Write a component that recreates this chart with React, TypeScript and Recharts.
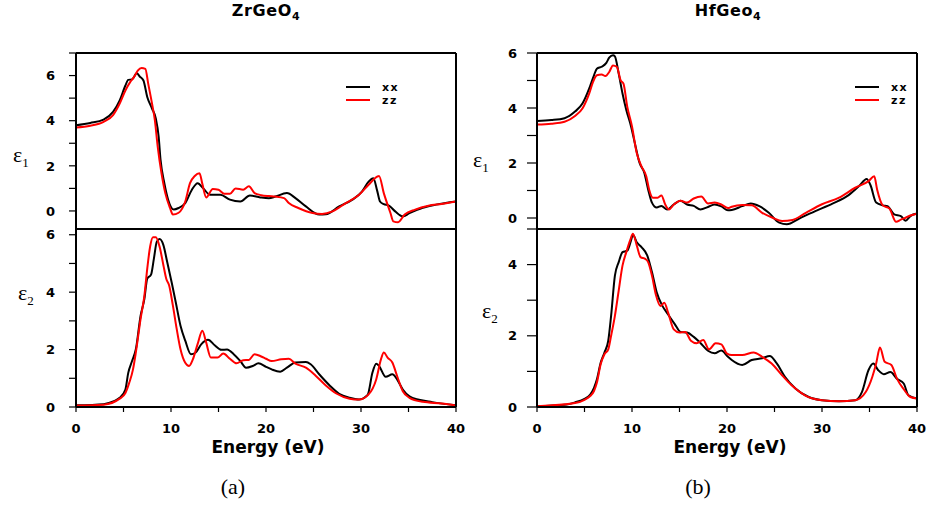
import React from 'react';
import { LineChart, Line, XAxis, YAxis } from 'recharts';

type Pt = [number, number];

// energy (eV), value pairs read per tensor component
const zrEps1Xx: Pt[] = [
  [0, 3.8], [1.5, 3.9], [2.9, 4.05], [3.9, 4.39], [4.6, 4.9], [5.2, 5.56], [5.5, 5.81], [5.9, 5.83],
  [6.4, 6.1], [6.7, 5.96], [7.1, 5.78], [7.5, 5.05], [8.0, 4.54], [8.4, 4.1], [8.7, 3.29], [8.9, 2.26],
  [9.3, 1.23], [9.7, 0.5], [10.3, 0.06], [10.8, 0.13], [11.5, 0.35], [12.2, 0.94], [12.8, 1.23],
  [13.4, 1.0], [14.1, 0.72], [15.2, 0.72], [16.2, 0.5], [17.3, 0.42], [18.3, 0.69], [19.4, 0.6],
  [20.3, 0.56], [21, 0.64], [22.2, 0.79], [23.1, 0.57], [24.2, 0.2], [25.6, -0.16], [26.3, -0.15],
  [27.7, 0.2], [29.1, 0.5], [30.1, 0.86], [30.8, 1.3], [31.3, 1.45], [31.7, 0.9], [32.0, 0.42],
  [32.4, 0.3], [32.9, 0.25], [33.6, -0.02], [34.4, -0.24], [35.1, -0.1], [36.5, 0.14], [37.9, 0.28],
  [40, 0.42],
];
const zrEps1Zz: Pt[] = [
  [0, 3.7], [1.5, 3.78], [2.9, 3.95], [3.9, 4.25], [4.6, 4.76], [5.2, 5.34], [5.7, 5.71], [6.1, 5.93],
  [6.5, 6.22], [6.9, 6.34], [7.3, 6.3], [7.6, 5.64], [8.0, 4.76], [8.3, 4.02], [8.6, 2.85], [9.0, 1.67],
  [9.4, 0.79], [9.9, 0.13], [10.2, -0.16], [10.8, -0.08], [11.5, 0.42], [12.0, 1.23], [12.5, 1.55],
  [13.0, 1.67], [13.3, 1.2], [13.7, 0.6], [14.4, 0.97], [15.0, 0.94], [15.6, 0.76], [16.2, 0.76],
  [16.8, 1.0], [17.6, 0.94], [18.2, 1.09], [18.8, 0.79], [19.5, 0.7], [20.3, 0.66], [21, 0.64],
  [21.9, 0.57], [22.4, 0.35], [23.4, 0.13], [24.9, -0.09], [25.9, -0.13], [27, -0.02], [28.4, 0.35],
  [29.8, 0.72], [30.8, 1.16], [31.7, 1.52], [31.9, 1.55], [32.4, 0.79], [33.1, -0.09], [33.4, -0.46],
  [33.9, -0.5], [34.6, -0.16], [35.7, 0.06], [37.1, 0.23], [38.5, 0.31], [40, 0.42],
];
const zrEps2Xx: Pt[] = [
  [0, 0.06], [2.9, 0.1], [4, 0.2], [4.6, 0.32], [5.2, 0.61], [5.5, 1.19], [5.9, 1.6], [6.3, 2.01],
  [6.8, 3.18], [7.2, 3.77], [7.5, 4.47], [7.9, 4.61], [8.2, 5.17], [8.5, 5.75], [8.8, 5.85], [9.2, 5.64],
  [9.6, 5.05], [10.1, 4.29], [10.5, 3.65], [11.0, 2.83], [11.5, 2.31], [12.1, 1.84], [12.6, 1.9],
  [13.2, 2.19], [13.9, 2.34], [14.6, 2.15], [15.3, 1.99], [15.9, 2.0], [16.6, 1.84], [17.3, 1.6],
  [17.9, 1.37], [18.6, 1.43], [19.2, 1.52], [20.0, 1.4], [20.6, 1.31], [21.5, 1.23], [22.2, 1.37],
  [23.1, 1.55], [24.2, 1.57], [24.7, 1.49], [25.6, 1.14], [26.7, 0.75], [27.7, 0.46], [28.8, 0.32],
  [29.8, 0.26], [30.7, 0.42], [31.2, 1.19], [31.6, 1.51], [31.9, 1.43], [32.6, 1.05], [33.3, 1.14],
  [33.8, 0.96], [34.4, 0.61], [35.1, 0.37], [36.1, 0.25], [37.5, 0.17], [40, 0.06],
];
const zrEps2Zz: Pt[] = [
  [0, 0.05], [2.9, 0.08], [4.6, 0.29], [5.2, 0.49], [5.6, 0.84], [6.0, 1.31], [6.3, 1.9], [6.8, 3.07],
  [7.2, 3.88], [7.5, 4.82], [7.8, 5.58], [8.1, 5.91], [8.4, 5.91], [8.8, 5.58], [9.2, 4.94], [9.5, 4.47],
  [9.8, 4.24], [10.2, 3.53], [10.6, 2.72], [11.0, 2.01], [11.5, 1.54], [11.9, 1.43], [12.3, 1.66],
  [12.8, 2.19], [13.3, 2.66], [13.7, 2.25], [14.2, 1.72], [14.9, 1.72], [15.5, 1.86], [16.2, 1.68],
  [16.9, 1.52], [17.6, 1.63], [18.2, 1.64], [18.8, 1.84], [19.5, 1.76], [20.0, 1.68], [20.6, 1.6],
  [21.6, 1.66], [22.4, 1.68], [23.1, 1.51], [24.2, 1.37], [25.2, 1.1], [26.3, 0.75], [27.4, 0.47],
  [28.8, 0.29], [29.8, 0.26], [30.8, 0.44], [31.6, 0.96], [32.1, 1.66], [32.4, 1.9], [32.8, 1.72],
  [33.3, 1.55], [33.8, 1.08], [34.4, 0.55], [35.1, 0.32], [36.5, 0.18], [38.5, 0.12], [40, 0.05],
];

const hfEps1Xx: Pt[] = [
  [0, 3.53], [1.5, 3.56], [2.9, 3.63], [4.0, 3.87], [4.8, 4.17], [5.5, 4.71], [6.0, 5.19], [6.3, 5.43],
  [6.8, 5.5], [7.3, 5.64], [7.6, 5.83], [8.0, 5.92], [8.2, 5.88], [8.6, 5.25], [9.0, 4.53], [9.4, 3.93],
  [9.9, 3.33], [10.3, 2.72], [10.8, 2.0], [11.3, 1.64], [11.7, 1.04], [12.1, 0.56], [12.6, 0.38],
  [13.1, 0.44], [13.7, 0.31], [14.4, 0.49], [15.1, 0.63], [15.8, 0.49], [16.5, 0.44], [17.2, 0.31],
  [18.0, 0.4], [18.7, 0.49], [19.4, 0.42], [20.1, 0.28], [20.5, 0.29], [21.6, 0.43], [22.5, 0.53],
  [23.4, 0.43], [24.4, 0.19], [25.5, -0.17], [26.3, -0.23], [27.6, -0.02], [29.3, 0.25], [31.1, 0.52],
  [32.8, 0.83], [33.9, 1.16], [34.7, 1.42], [35.1, 1.2], [35.7, 0.56], [36.4, 0.46], [36.9, 0.43],
  [37.6, 0.13], [38.3, 0.07], [38.8, -0.1], [39.3, 0.07], [40, 0.16],
];
const hfEps1Zz: Pt[] = [
  [0, 3.4], [1.5, 3.43], [2.9, 3.5], [4.0, 3.71], [4.8, 3.99], [5.5, 4.53], [5.9, 4.95], [6.3, 5.19],
  [6.8, 5.22], [7.2, 5.16], [7.6, 5.31], [8.0, 5.55], [8.4, 5.5], [8.8, 5.01], [9.1, 4.89], [9.5, 4.05],
  [10.0, 3.33], [10.5, 2.36], [11.0, 1.88], [11.5, 1.52], [11.8, 1.04], [12.2, 0.74], [12.7, 0.74],
  [13.1, 0.82], [13.5, 0.49], [13.9, 0.31], [14.4, 0.49], [15.1, 0.63], [15.8, 0.56], [16.5, 0.71],
  [17.3, 0.78], [18.0, 0.53], [18.7, 0.56], [19.4, 0.49], [20.1, 0.36], [20.5, 0.41], [21.6, 0.47],
  [22.6, 0.46], [23.7, 0.19], [24.8, 0.01], [25.8, -0.11], [26.9, -0.07], [28.3, 0.19], [30, 0.5],
  [31.8, 0.74], [33.5, 1.1], [34.9, 1.34], [35.5, 1.52], [35.8, 1.04], [36.4, 0.46], [37.1, 0.34],
  [37.8, -0.14], [38.3, -0.06], [38.8, 0.01], [39.3, 0.09], [40, 0.16],
];
const hfEps2Xx: Pt[] = [
  [0, 0.02], [2.9, 0.06], [4.0, 0.13], [5.0, 0.23], [5.6, 0.35], [6.0, 0.54], [6.3, 0.77], [6.7, 1.24],
  [7.1, 1.53], [7.5, 1.86], [7.8, 2.56], [8.2, 3.69], [8.6, 4.07], [9.0, 4.35], [9.5, 4.39], [9.9, 4.68],
  [10.1, 4.84], [10.5, 4.63], [11.0, 4.49], [11.6, 4.26], [12.1, 3.79], [12.6, 3.22], [13.2, 2.84],
  [13.8, 2.6], [14.5, 2.33], [15.1, 2.11], [15.8, 2.09], [16.5, 1.97], [17.2, 1.8], [18.0, 1.58],
  [18.7, 1.51], [19.4, 1.59], [20.1, 1.41], [20.5, 1.32], [21.6, 1.18], [22.6, 1.32], [23.7, 1.37],
  [24.5, 1.43], [25.2, 1.24], [26.1, 0.85], [27.2, 0.52], [28.6, 0.28], [30, 0.19], [31.8, 0.16],
  [33.5, 0.19], [34.2, 0.42], [34.9, 1.04], [35.4, 1.22], [35.9, 1.04], [36.5, 0.92], [37.2, 0.98],
  [37.9, 0.79], [38.6, 0.66], [39.1, 0.33], [40, 0.24],
];
const hfEps2Zz: Pt[] = [
  [0, 0.02], [4.0, 0.11], [5.0, 0.2], [5.6, 0.31], [6.0, 0.45], [6.3, 0.68], [6.7, 1.2], [7.1, 1.48],
  [7.5, 1.62], [7.8, 2.0], [8.2, 2.56], [8.6, 3.27], [9.0, 3.97], [9.4, 4.35], [9.8, 4.68], [10.1, 4.87],
  [10.5, 4.54], [10.9, 4.21], [11.4, 4.16], [11.7, 4.07], [12.1, 3.69], [12.5, 3.17], [13.0, 2.84],
  [13.4, 2.93], [13.8, 2.65], [14.4, 2.18], [15.0, 2.09], [15.6, 2.11], [16.2, 1.86], [16.8, 1.79],
  [17.5, 1.88], [18.1, 1.62], [18.8, 1.79], [19.4, 1.76], [20.0, 1.5], [20.5, 1.46], [21.6, 1.46],
  [22.8, 1.53], [23.7, 1.41], [24.7, 1.22], [25.8, 0.89], [26.8, 0.61], [28.2, 0.33], [30, 0.19],
  [31.8, 0.16], [33.5, 0.19], [34.6, 0.42], [35.3, 0.85], [35.7, 1.22], [36.1, 1.67], [36.6, 1.27],
  [37.3, 1.18], [37.9, 0.79], [38.6, 0.5], [39.3, 0.28], [40, 0.24],
];

const energyTicks = [0, 5, 10, 15, 20, 25, 30, 35, 40];
const energyLabels = [0, 10, 20, 30, 40];

const AXIS_FONT = 'DejaVu Sans, Verdana, sans-serif';
const SERIF = 'Liberation Serif, Times New Roman, serif';

// plot boxes (left, top, width, height) shared by the charts and the frame overlay
const BOX_A_TOP = { left: 76, top: 53, width: 380, height: 176 };
const BOX_A_BOT = { left: 76, top: 229, width: 380, height: 178 };
const BOX_B_TOP = { left: 537, top: 53, width: 380, height: 176 };
const BOX_B_BOT = { left: 537, top: 229, width: 380, height: 178 };

const toRows = (pts: Pt[]) => pts.map(([e, v]) => ({ e, v }));

const YTick = (props: any) => {
  const { x, y, payload, labeled } = props;
  if (!labeled.includes(payload.value)) return <g />;
  return (
    <text x={x} y={y} dy="0.36em" textAnchor="end" fontFamily={AXIS_FONT} fontWeight="bold" fontSize={13} fill="#000">
      {payload.value}
    </text>
  );
};

const XTick = (props: any) => {
  const { x, y, payload } = props;
  if (!energyLabels.includes(payload.value)) return <g />;
  return (
    <text x={x} y={y} dy="0.72em" textAnchor="middle" fontFamily={AXIS_FONT} fontWeight="bold" fontSize={13} fill="#000">
      {payload.value}
    </text>
  );
};

interface Box { left: number; top: number; width: number; height: number }

interface SubPlotProps {
  box: Box;
  domain: [number, number];
  ticks: number[];
  labeled: number[];
  xx: Pt[];
  zz: Pt[];
  showX?: boolean;
  tickLen: number;
  labelGap: number;
}

const PAD_L = 70;
const PAD_T = 10;
const PAD_R = 10;
const PAD_B = 40;

const SubPlot: React.FC<SubPlotProps> = ({ box, domain, ticks, labeled, xx, zz, showX = false, tickLen, labelGap }) => (
  <div style={{ position: 'absolute', left: box.left - PAD_L, top: box.top - PAD_T }}>
    <LineChart
      width={box.width + PAD_L + PAD_R}
      height={box.height + PAD_T + PAD_B}
      margin={{ top: PAD_T, right: PAD_R, left: 0, bottom: showX ? 0 : PAD_B }}
    >
      <XAxis
        type="number"
        dataKey="e"
        domain={[0, 40]}
        ticks={energyTicks}
        interval={0}
        hide={!showX}
        height={PAD_B}
        allowDataOverflow
        axisLine={false}
        tickSize={5}
        tickMargin={12}
        tickLine={{ stroke: '#000', strokeWidth: 1.2 }}
        tick={<XTick />}
      />
      <YAxis
        type="number"
        domain={domain}
        ticks={ticks}
        interval={0}
        width={PAD_L}
        allowDataOverflow
        axisLine={false}
        tickSize={tickLen}
        tickMargin={labelGap}
        tickLine={{ stroke: '#000', strokeWidth: 1.2 }}
        tick={<YTick labeled={labeled} />}
      />
      <Line data={toRows(xx)} dataKey="v" type="monotone" stroke="#000" strokeWidth={2} dot={false} isAnimationActive={false} />
      <Line data={toRows(zz)} dataKey="v" type="monotone" stroke="#ff0000" strokeWidth={2} dot={false} isAnimationActive={false} />
    </LineChart>
  </div>
);

// box outline drawn as four separate strokes
const Frame: React.FC<{ box: Box }> = ({ box }) => {
  const { left: l, top: t, width: w, height: h } = box;
  return (
    <g stroke="#000" strokeWidth={2} shapeRendering="crispEdges">
      <line x1={l} x2={l + w} y1={t} y2={t} />
      <line x1={l} x2={l + w} y1={t + h} y2={t + h} />
      <line x1={l} x2={l} y1={t} y2={t + h} />
      <line x1={l + w} x2={l + w} y1={t} y2={t + h} />
    </g>
  );
};

const Legend: React.FC<{ x: number; y: number }> = ({ x, y }) => (
  <g fontFamily={AXIS_FONT} fontWeight="bold" fontSize={11}>
    <line x1={x} x2={x + 24} y1={y} y2={y} stroke="#000" strokeWidth={2} />
    <text x={x + 36} y={y + 4} letterSpacing={1.5}>xx</text>
    <line x1={x} x2={x + 24} y1={y + 13} y2={y + 13} stroke="#ff0000" strokeWidth={2} />
    <text x={x + 36} y={y + 17} letterSpacing={1.5}>zz</text>
  </g>
);

const Eps: React.FC<{ x: number; y: number; sub: string }> = ({ x, y, sub }) => (
  <text x={x} y={y} fontFamily={SERIF} fontSize={22} fill="#000">
    ε<tspan fontSize={13} dy={5}>{sub}</tspan>
  </text>
);

export default function App() {
  return (
    <div style={{ position: 'absolute', left: 0, top: 0, width: 929, height: 507, background: '#fff' }}>
      <SubPlot box={BOX_A_TOP} domain={[-0.8, 7]} ticks={[0, 1, 2, 3, 4, 5, 6, 7]}
        labeled={[0, 2, 4, 6]} xx={zrEps1Xx} zz={zrEps1Zz} tickLen={7} labelGap={14} />
      <SubPlot box={BOX_A_BOT} domain={[0, 6.2]} ticks={[0, 1, 2, 3, 4, 5, 6]}
        labeled={[0, 2, 4, 6]} xx={zrEps2Xx} zz={zrEps2Zz} showX tickLen={7} labelGap={14} />
      <SubPlot box={BOX_B_TOP} domain={[-0.4, 6]} ticks={[0, 1, 2, 3, 4, 5, 6]}
        labeled={[0, 2, 4, 6]} xx={hfEps1Xx} zz={hfEps1Zz} tickLen={10} labelGap={10} />
      <SubPlot box={BOX_B_BOT} domain={[0, 5]} ticks={[0, 1, 2, 3, 4, 5]}
        labeled={[0, 2, 4]} xx={hfEps2Xx} zz={hfEps2Zz} showX tickLen={10} labelGap={10} />

      <svg width={929} height={507} style={{ position: 'absolute', left: 0, top: 0, pointerEvents: 'none' }}>
        <Frame box={BOX_A_TOP} />
        <Frame box={BOX_A_BOT} />
        <Frame box={BOX_B_TOP} />
        <Frame box={BOX_B_BOT} />
        <g fontFamily={AXIS_FONT} fontWeight="bold" fill="#000">
          <text x={266} y={16} textAnchor="middle" fontSize={16} letterSpacing={0.6}>
            ZrGeO<tspan fontSize={11} dy={4}>4</tspan>
          </text>
          <text x={728} y={16} textAnchor="middle" fontSize={16} letterSpacing={0.6}>
            HfGeo<tspan fontSize={11} dy={4}>4</tspan>
          </text>
          <text x={268} y={453} textAnchor="middle" fontSize={17}>Energy (eV)</text>
          <text x={730} y={453} textAnchor="middle" fontSize={17}>Energy (eV)</text>
        </g>
        <Legend x={346} y={87} />
        <Legend x={855} y={87} />
        <Eps x={13} y={162} sub="1" />
        <Eps x={18} y={300} sub="2" />
        <Eps x={473} y={167} sub="1" />
        <Eps x={482} y={318} sub="2" />
        <text x={233} y={494} textAnchor="middle" fontFamily={SERIF} fontSize={22} fill="#000">(a)</text>
        <text x={698} y={494} textAnchor="middle" fontFamily={SERIF} fontSize={22} fill="#000">(b)</text>
      </svg>
    </div>
  );
}
